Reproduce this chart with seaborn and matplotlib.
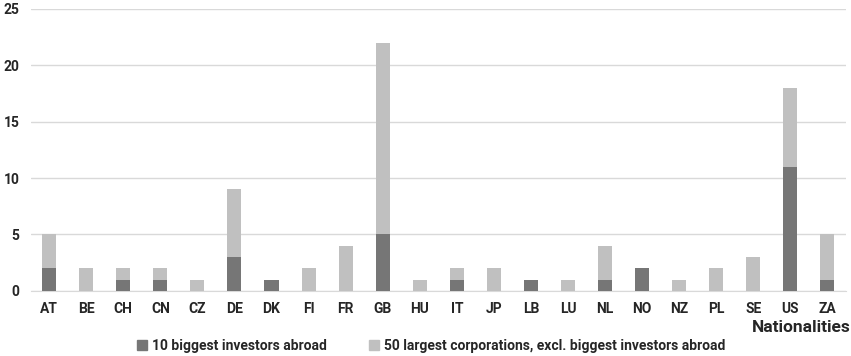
import pandas as pd
import numpy as np
import seaborn as sns
import matplotlib.pyplot as plt
from matplotlib.patches import Patch

countries = ["AT", "BE", "CH", "CN", "CZ", "DE", "DK", "FI", "FR", "GB", "HU",
             "IT", "JP", "LB", "LU", "NL", "NO", "NZ", "PL", "SE", "US", "ZA"]
investors = [2, 0, 1, 1, 0, 3, 1, 0, 0, 5, 0, 1, 0, 1, 0, 1, 2, 0, 0, 0, 11, 1]
corporations = [3, 2, 1, 1, 1, 6, 0, 2, 4, 17, 1, 1, 2, 0, 1, 3, 0, 1, 2, 3, 7, 4]

df = pd.DataFrame({"Country": countries, "inv": investors, "corp": corporations})
df["total"] = df["inv"] + df["corp"]

sns.set_style("white")
plt.rcParams['font.family'] = ['Roboto', 'DejaVu Sans']
plt.rcParams['font.weight'] = 'bold'

dark = "#767676"
light = "#c0c0c0"

fig = plt.figure(figsize=(8.51, 3.56), dpi=100)
ax = fig.add_axes([0.036, 0.183, 0.958, 0.792])

# stacked: total (light) first, then dark part on top of it
sns.barplot(data=df, x="Country", y="total", color=light, width=0.38,
            saturation=1, linewidth=0, ax=ax, zorder=3)
sns.barplot(data=df, x="Country", y="inv", color=dark, width=0.38,
            saturation=1, linewidth=0, ax=ax, zorder=3)

ax.set_ylim(0, 25)
ax.set_yticks(range(0, 26, 5))
ax.set_xlim(-0.5, len(countries) - 0.5)
ax.yaxis.grid(True, color="#d9d9d9", linewidth=1, zorder=0)
for s in ["top", "right", "left"]:
    ax.spines[s].set_visible(False)
ax.spines["bottom"].set_color("#d9d9d9")
ax.tick_params(axis="both", length=0, labelsize=10, pad=8)
ax.set_ylabel("")
ax.set_xlabel("")

fig.text(0.999, 1 - 327 / 356, "Nationalities", ha="right", va="center",
         fontsize=12.5, fontweight="bold")

handles = [Patch(color=dark, label="10 biggest investors abroad"),
           Patch(color=light, label="50 largest corporations, excl. biggest investors abroad")]
fig.legend(handles=handles, loc="center", bbox_to_anchor=(0.507, 1 - 346 / 356),
           ncol=2, frameon=False, fontsize=10, handlelength=0.7, handleheight=0.7,
           handletextpad=0.4, columnspacing=3.0)

fig.savefig("out.png", dpi=100)
